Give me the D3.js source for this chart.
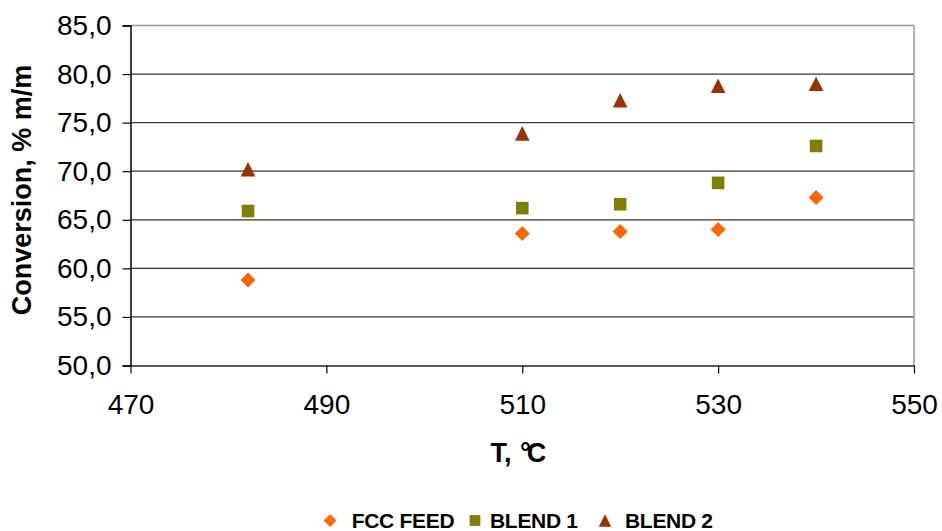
<!DOCTYPE html>
<html><head><meta charset="utf-8">
<script src="https://cdn.jsdelivr.net/npm/d3@7/dist/d3.min.js"></script>
<style>body{margin:0;background:#fff}svg{display:block}</style>
</head><body><svg id="c" width="942" height="531"></svg>
<script>
const temps = [482, 510, 520, 530, 540];
const fccFeed = [58.8, 63.6, 63.8, 64.0, 67.3];
const blend1 = [65.9, 66.2, 66.6, 68.8, 72.6];
const blend2 = [70.2, 73.9, 77.3, 78.8, 79.0];
const seriesNames = ["FCC FEED", "BLEND 1", "BLEND 2"];
const xTicks = [470, 490, 510, 530, 550];
const yTicks = [50, 55, 60, 65, 70, 75, 80, 85];

const svg = d3.select("#c");
const L = 130.5, R = 914, T = 25.5, B = 365.5;
const x = d3.scaleLinear().domain([470, 550]).range([L, R]);
const y = d3.scaleLinear().domain([50, 85]).range([B, T]);
const font = "'Liberation Sans', Arial, sans-serif";

// gridlines
svg.append("g").selectAll("line").data(yTicks.filter(v => v > 50 && v < 85)).join("line")
  .attr("x1", L).attr("x2", R).attr("y1", d => y(d)).attr("y2", d => y(d))
  .attr("stroke", "#333").attr("stroke-width", 1.2);
// frame top & right
svg.append("line").attr("x1", L).attr("x2", R).attr("y1", T).attr("y2", T).attr("stroke", "#999").attr("stroke-width", 1.5);
svg.append("line").attr("x1", R).attr("x2", R).attr("y1", T).attr("y2", B).attr("stroke", "#999").attr("stroke-width", 1.5);

// y axis
const yAxis = svg.append("g").attr("transform", `translate(${L},0)`)
  .call(d3.axisLeft(y).tickValues(yTicks).tickSize(8).tickPadding(11).tickFormat(d => d3.format(".1f")(d).replace(".", ",")));
yAxis.select(".domain").attr("stroke", "#000").attr("stroke-width", 1.5);
yAxis.selectAll(".tick line").attr("stroke", "#000").attr("stroke-width", 1.2);
yAxis.selectAll("text").attr("font-family", font).attr("font-size", 28).attr("fill", "#000");

// x axis
const xAxis = svg.append("g").attr("transform", `translate(0,${B})`)
  .call(d3.axisBottom(x).tickValues(xTicks).tickSize(8).tickPadding(21).tickSizeOuter(0));
xAxis.select(".domain").attr("stroke", "#222").attr("stroke-width", 1.5);
xAxis.selectAll(".tick line").attr("stroke", "#000").attr("stroke-width", 1.2);
xAxis.selectAll("text").attr("font-family", font).attr("font-size", 28).attr("fill", "#000");

// titles
svg.append("text").attr("transform", "translate(31,190) rotate(-90)").attr("text-anchor", "middle")
  .attr("font-family", font).attr("font-weight", "bold").attr("font-size", 27).text("Conversion, % m/m");
const xt = svg.append("text").attr("x", 490.5).attr("y", 462)
  .attr("font-family", font).attr("font-weight", "bold").attr("font-size", 27);
xt.append("tspan").text("T,");
xt.append("tspan").attr("x", 520).attr("letter-spacing", -4).text("°C");

const colors = ["#FF6600", "#808000", "#993300"];
// custom marker paths, bbox centred on the data point
const shapePath = [
  s => `M0,${-s}L${s},0L0,${s}L${-s},0Z`,
  s => `M${-s},${-s}H${s}V${s}H${-s}Z`,
  s => `M0,${-s}L${s},${s}H${-s}Z`
];
const half = [7.5, 6.3, 7.3];
const data = [fccFeed, blend1, blend2];

data.forEach((vals, i) => {
  svg.append("g").selectAll("path").data(vals).join("path")
    .attr("d", shapePath[i](half[i]))
    .attr("transform", (d, j) => `translate(${x(temps[j])},${y(d)})`)
    .attr("fill", colors[i]);
});

// legend
const legX = [330, 475, 605];
const textX = [351.7, 490, 625];
const lg = svg.append("g");
seriesNames.forEach((n, i) => {
  lg.append("path").attr("d", shapePath[i](half[i] * 0.85))
    .attr("transform", `translate(${legX[i]},520.5)`)
    .attr("fill", colors[i]);
  lg.append("text").attr("x", textX[i]).attr("y", 527.7).attr("font-family", font).attr("font-weight", "bold")
    .attr("font-size", 21).attr("letter-spacing", -0.3).text(n);
});
</script></body></html>
